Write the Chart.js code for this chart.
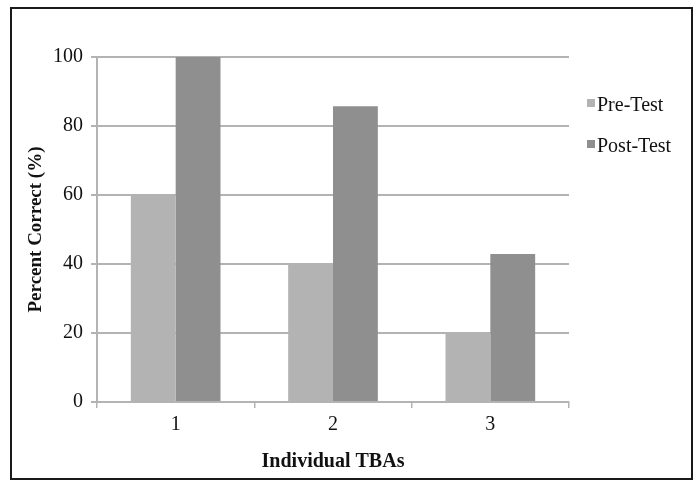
<!DOCTYPE html>
<html lang="en">
<head>
    <meta charset="UTF-8">
    <title>Percent Correct by Individual TBA</title>
    <script src="https://cdn.jsdelivr.net/npm/chart.js"></script>
    <style>
        html, body { margin: 0; padding: 0; background: white; }
        .wrap { position: relative; width: 696px; height: 481px; }
        .frame { position: absolute; left: 10px; top: 7px; width: 679px; height: 469px; border: 2px solid #1a1a1a; pointer-events: none; }
        canvas { position: absolute; left: 0; top: 0; }
    </style>
</head>
<body>
    <div class="wrap">
        <canvas id="tbaChart" width="696" height="481"></canvas>
        <div class="frame"></div>
    </div>

    <script>
        // Data
        const categories = ['1', '2', '3'];
        const preTest = [60, 40, 20];
        const postTest = [100, 85.7, 42.9];
        const yTicks = [0, 20, 40, 60, 80, 100];

        const serif = '"Liberation Serif", "DejaVu Serif", serif';
        const gridGray = '#b3b3b3';

        // Legend on the right, drawn from the datasets
        const sideLegend = {
            id: 'sideLegend',
            afterDraw(chart) {
                const ctx = chart.ctx;
                const rows = [106, 147];
                ctx.save();
                ctx.font = '20px ' + serif;
                ctx.textBaseline = 'middle';
                chart.data.datasets.forEach((ds, i) => {
                    ctx.fillStyle = ds.backgroundColor;
                    ctx.fillRect(587, rows[i] - 7, 8, 8);
                    ctx.fillStyle = '#111';
                    ctx.fillText(ds.label, 597, rows[i]);
                });
                ctx.restore();
            }
        };

        new Chart(document.getElementById('tbaChart'), {
            type: 'bar',
            data: {
                labels: categories,
                datasets: [
                    { label: 'Pre-Test', data: preTest, backgroundColor: '#b3b3b3' },
                    { label: 'Post-Test', data: postTest, backgroundColor: '#8f8f8f' }
                ]
            },
            options: {
                responsive: false,
                animation: false,
                layout: { padding: { left: 20, top: 57, right: 127, bottom: 2 } },
                datasets: { bar: { barPercentage: 1, categoryPercentage: 0.57 } },
                plugins: {
                    legend: { display: false },
                    tooltip: { enabled: false }
                },
                scales: {
                    x: {
                        afterFit: (s) => { s.height = 77; },
                        grid: { display: true, offset: true, drawOnChartArea: false, color: gridGray, lineWidth: 1.5, tickLength: 6 },
                        border: { color: gridGray, width: 2 },
                        ticks: { color: '#111', font: { family: serif, size: 20 }, padding: 5 },
                        title: { display: true, text: 'Individual TBAs', color: '#111', font: { family: serif, size: 20, weight: 'bold' }, padding: { top: 4, bottom: 5 } }
                    },
                    y: {
                        min: 0,
                        max: 100,
                        afterFit: (s) => { s.width = 77; },
                        afterBuildTicks: (s) => { s.ticks = yTicks.map(v => ({ value: v })); },
                        grid: { color: gridGray, lineWidth: 2, tickLength: 6 },
                        border: { color: gridGray, width: 2 },
                        ticks: { color: '#111', font: { family: serif, size: 20 }, padding: 8 },
                        title: { display: true, text: 'Percent Correct (%)', color: '#111', font: { family: serif, size: 19, weight: 'bold' }, padding: { top: 5 } }
                    }
                }
            },
            plugins: [sideLegend]
        });
    </script>
</body>
</html>
